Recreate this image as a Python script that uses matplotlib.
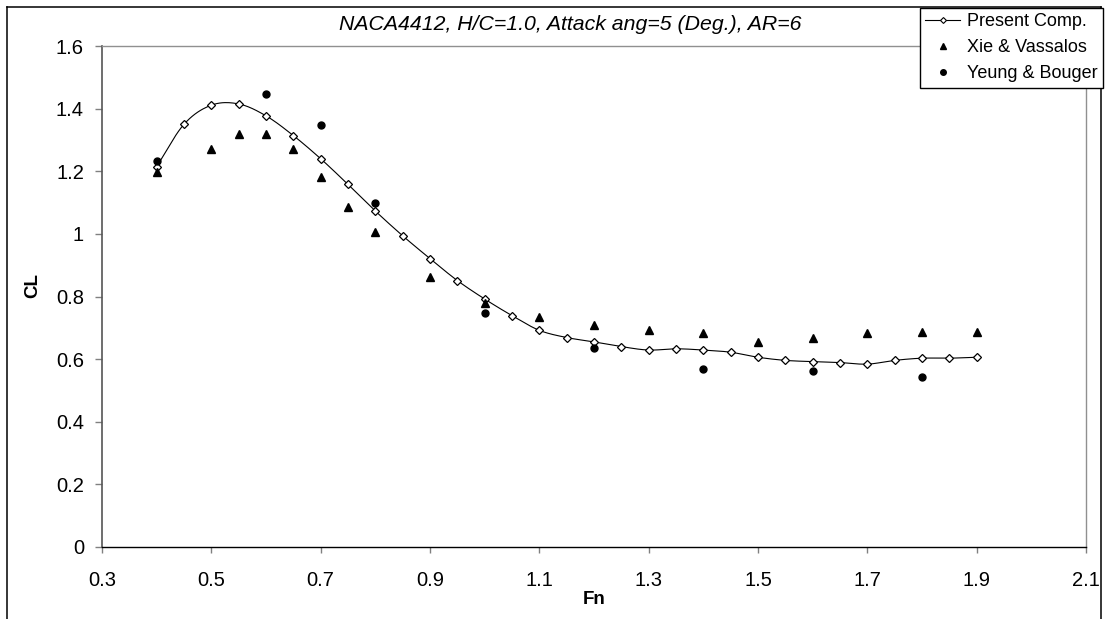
import numpy as np
import matplotlib
matplotlib.use("Agg")
import matplotlib.pyplot as plt
from matplotlib.lines import Line2D

plt.rcParams['font.family'] = ['Liberation Sans', 'DejaVu Sans']

# ---- data ----
fn_comp = [0.40, 0.45, 0.50, 0.55, 0.60, 0.65, 0.70, 0.75, 0.80, 0.85,
           0.90, 0.95, 1.00, 1.05, 1.10, 1.15, 1.20, 1.25, 1.30, 1.35,
           1.40, 1.45, 1.50, 1.55, 1.60, 1.65, 1.70, 1.75, 1.80, 1.85, 1.90]
cl_comp = [1.215, 1.350, 1.411, 1.415, 1.377, 1.314, 1.240, 1.158, 1.073, 0.994,
           0.921, 0.851, 0.792, 0.739, 0.692, 0.669, 0.655, 0.640, 0.629, 0.633,
           0.629, 0.622, 0.606, 0.596, 0.592, 0.589, 0.584, 0.596, 0.603, 0.603, 0.606]

fn_xie = [0.40, 0.50, 0.55, 0.60, 0.65, 0.70, 0.75, 0.80, 0.90, 1.00,
          1.10, 1.20, 1.30, 1.40, 1.50, 1.60, 1.70, 1.80, 1.90]
cl_xie = [1.199, 1.270, 1.319, 1.319, 1.270, 1.181, 1.087, 1.006, 0.861, 0.778,
          0.736, 0.710, 0.693, 0.683, 0.656, 0.667, 0.683, 0.686, 0.686]

fn_yeung = [0.40, 0.60, 0.70, 0.80, 1.00, 1.20, 1.40, 1.60, 1.80]
cl_yeung = [1.234, 1.446, 1.349, 1.098, 0.748, 0.635, 0.568, 0.563, 0.542]

x_ticks = [0.3, 0.5, 0.7, 0.9, 1.1, 1.3, 1.5, 1.7, 1.9, 2.1]
y_ticks = [0, 0.2, 0.4, 0.6, 0.8, 1.0, 1.2, 1.4, 1.6]
y_tick_labels = ['0', '0.2', '0.4', '0.6', '0.8', '1', '1.2', '1.4', '1.6']

title = "NACA4412, H/C=1.0, Attack ang=5 (Deg.), AR=6"
series_labels = ['Present Comp.', 'Xie & Vassalos', 'Yeung & Bouger']


def smooth_curve(x, y, n=20):
    """Bezier smoothing through the points (like a spreadsheet 'smoothed line')."""
    x = np.asarray(x, float)
    y = np.asarray(y, float)
    px = np.concatenate([[2 * x[0] - x[1]], x, [2 * x[-1] - x[-2]]])
    py = np.concatenate([[2 * y[0] - y[1]], y, [2 * y[-1] - y[-2]]])
    xs, ys = [], []
    t = np.linspace(0, 1, n, endpoint=False)
    for i in range(1, len(px) - 2):
        p0, p1, p2, p3 = (np.array([px[j], py[j]]) for j in range(i - 1, i + 3))
        b1 = p1 + (p2 - p0) / 6.0
        b2 = p2 - (p3 - p1) / 6.0
        for tt in t:
            pt = ((1 - tt) ** 3) * p1 + 3 * ((1 - tt) ** 2) * tt * b1 \
                + 3 * (1 - tt) * tt ** 2 * b2 + tt ** 3 * p2
            xs.append(pt[0]); ys.append(pt[1])
    xs.append(x[-1]); ys.append(y[-1])
    return np.array(xs), np.array(ys)


W, H = 1105, 619
fig = plt.figure(figsize=(W / 100, H / 100), dpi=100)
ax = fig.add_axes([102 / W, 1 - 547 / H, (1086 - 102) / W, (547 - 46) / H])

sx, sy = smooth_curve(fn_comp, cl_comp)
ax.plot(sx, sy, color='black', lw=0.8, zorder=2)
ax.plot(fn_comp, cl_comp, ls='none', marker='D', ms=3.6, mfc='white', mec='black',
        mew=0.9, zorder=3)
ax.plot(fn_xie, cl_xie, ls='none', marker='^', ms=6.2, color='black', zorder=4)
ax.plot(fn_yeung, cl_yeung, ls='none', marker='o', ms=5, color='black', zorder=4)

ax.set_xlim(0.3, 2.1)
ax.set_ylim(0, 1.6)
ax.set_xticks(x_ticks)
ax.set_xticklabels([f"{v:.1f}" for v in x_ticks])
ax.set_yticks(y_ticks)
ax.set_yticklabels(y_tick_labels)
ax.tick_params(axis='x', direction='out', length=4.5, width=1, color='#808080',
               labelsize=14.5, pad=12.5)
ax.tick_params(axis='y', direction='out', length=5, width=1, color='#808080',
               labelsize=14.5, pad=8)
ax.spines['left'].set_color('#555555')
ax.spines['left'].set_linewidth(1.2)
ax.spines['bottom'].set_color('black')
ax.spines['bottom'].set_linewidth(1.0)
ax.spines['top'].set_color('#909090')
ax.spines['top'].set_linewidth(1.0)
ax.spines['right'].set_color('#909090')
ax.spines['right'].set_linewidth(1.0)

fig.text(33 / W, 1 - 285 / H, 'CL', rotation=90, ha='center', va='center',
         fontsize=13.5, fontweight='bold')
fig.text(594 / W, 1 - 600 / H, 'Fn', ha='center', va='center',
         fontsize=13.5, fontweight='bold')

fig.text(570 / W, 1 - 24 / H, title, ha='center', va='center', fontsize=15.3,
         style='italic')

# outer chart frame
for xs_, ys_ in [([7, 7], [7, 640]), ([7, 1101], [7, 7]), ([1101, 1101], [7, 640])]:
    fig.add_artist(Line2D([v / W for v in xs_], [1 - v / H for v in ys_],
                          color='black', lw=1.1, transform=fig.transFigure))

handles = [
    Line2D([], [], color='black', lw=0.8, marker='D', ms=3.0, mfc='white', mec='black', mew=0.8),
    Line2D([], [], ls='none', marker='^', ms=5, color='black'),
    Line2D([], [], ls='none', marker='o', ms=4, color='black'),
]
leg = fig.legend(handles, series_labels, loc='upper right',
                 bbox_to_anchor=(1103 / W, 1 - 8 / H),
                 fontsize=13, frameon=True, fancybox=False, edgecolor='black',
                 framealpha=1, borderpad=0.3, labelspacing=0.5, handlelength=1.9,
                 handletextpad=0.4, borderaxespad=0.0)
leg.get_frame().set_linewidth(1.0)

fig.savefig('out.png', dpi=100)
